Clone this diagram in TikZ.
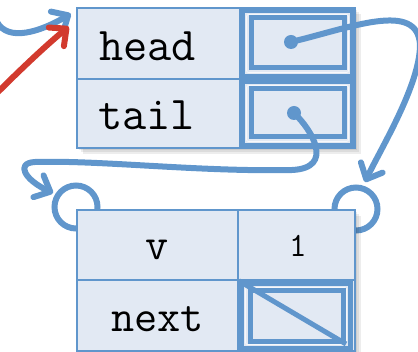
\documentclass[tikz,border=0pt]{standalone}
\usetikzlibrary{arrows.meta}
\definecolor{bl}{HTML}{6096CC}
\definecolor{fl}{HTML}{E2E9F3}
\definecolor{rd}{HTML}{D23A2E}
\tikzset{
  cell/.style={draw=bl, fill=fl, line width=2.5pt, inner sep=0pt, rectangle},
  lbl/.style={anchor=base, inner sep=0pt, font=\ttfamily\fontsize{47}{47}\selectfont},
  lbls/.style={anchor=base, inner sep=0pt, font=\ttfamily\fontsize{45}{45}\selectfont},
  ptrout/.style={draw=bl, line width=5.5pt},
  ptrin/.style={draw=bl, line width=5pt},
  thinl/.style={draw=white, opacity=0.7, line width=0.8pt, rounded corners=2pt},
  dot/.style={circle, fill=bl, inner sep=0pt, minimum size=14pt},
  ring/.style={circle, draw=bl, line width=6pt, inner sep=0pt, minimum size=43pt},
  link/.style={draw=bl, line width=6pt, line cap=round, line join=round,
    -{Straight Barb[length=13pt,width=24pt,line width=6pt,round]}},
  redlink/.style={draw=rd, line width=6pt, line cap=round,
    -{Straight Barb[length=13pt,width=24pt,line width=6pt,round]}},
  shad/.style={fill=black, opacity=0.07}
}
\begin{document}
\begin{tikzpicture}[x=1pt,y=-1pt]
\useasboundingbox (0,0) rectangle (418,352);
% rings behind bottom box
\node[ring] (lring) at (76,207) {};
\node[ring] (rring) at (356,209) {};
% shadows
\foreach \d in {2,4,6}{
  \fill[shad] (77+\d,8+\d) rectangle (355+\d,148+\d);
  \fill[shad] (77+\d,210+\d) rectangle (355+\d,360);
}
% top box
\node[cell, minimum width=163pt, minimum height=71pt] (headL) at (158.5,43.5) {};
\node[cell, minimum width=115pt, minimum height=71pt] (headP) at (297.5,43.5) {};
\node[cell, minimum width=163pt, minimum height=69pt] (tailL) at (158.5,113.5) {};
\node[cell, minimum width=115pt, minimum height=69pt] (tailP) at (297.5,113.5) {};
% pointer frames
\draw[ptrout] (242.5,10.5) rectangle (352.5,76.5);
\draw[thinl] (246.5,14.5) rectangle (348.5,72.5);
\draw[ptrin] (251,18) rectangle (344,68);
\draw[ptrout] (242.5,81.5) rectangle (352.5,145.5);
\draw[thinl] (246.5,85.5) rectangle (348.5,141.5);
\draw[ptrin] (251,89) rectangle (344,137);
\node[lbl] (tH) at (147.5,61) {head};
\node[lbl] (tT) at (146.5,130) {tail};
% bottom box
\node[cell, minimum width=161pt, minimum height=70pt] (vL) at (157.5,245) {};
\node[cell, minimum width=117pt, minimum height=70pt] (vV) at (296.5,245) {};
\node[cell, minimum width=161pt, minimum height=71pt] (nL) at (157.5,315.5) {};
\node[cell, minimum width=117pt, minimum height=71pt] (nP) at (296.5,315.5) {};
\draw[ptrout] (241.5,283.5) rectangle (350.5,348.5);
\draw[thinl] (245.5,287.5) rectangle (346.5,344.5);
\draw[ptrin] (250,291) rectangle (343,342);
\draw[draw=bl, line width=5pt] (nP.north west) ++(2,2) coordinate (nd1) -- (346,344) coordinate (nd2);
\node[lbls] (tV) at (157,260) {v};
\node[anchor=base, inner sep=0pt, font=\ttfamily\fontsize{34}{34}\selectfont] (tOne) at (298,257) {1};
\node[lbls] (tN) at (157.5,332) {next};
% dots
\node[dot] (hd) at (291,42) {};
\node[dot] (td) at (294,113) {};
% incoming arrows
\coordinate (inB) at (-3,22);
\coordinate (inR) at (-3,93);
\draw[link] (inB) .. controls (8,42) and (40,32) .. ([shift={(-5,7)}]headL.north west);
\draw[redlink] (inR) .. controls (25,65) and (50,42) .. ([shift={(-7,20)}]headL.north west);
% head -> node
\draw[link] (hd.center) .. controls (350,28) and (418,0) .. (420,45)
  .. controls (420,85) and (380,150) .. ([shift={(9,-27)}]rring.center);
% tail -> node
\draw[link] (td.center) .. controls (312,130) and (335,168) .. (292,170)
  .. controls (200,172) and (100,160) .. (35,162)
  .. controls (15,163) and (25,180) .. ([shift={(-23,-14)}]lring.center);
\end{tikzpicture}
\end{document}
